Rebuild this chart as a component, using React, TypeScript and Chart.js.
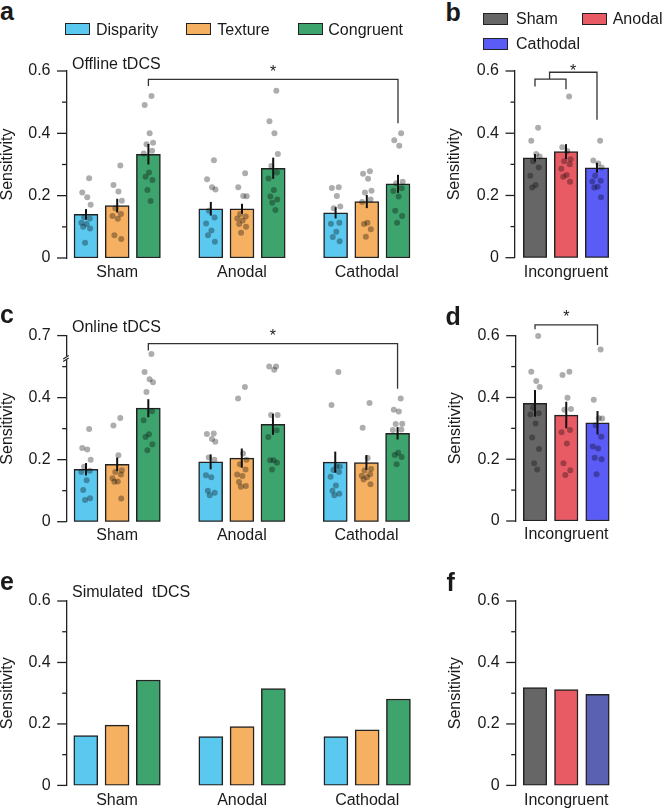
import React, { useEffect, useRef } from 'react';
import { Chart, registerables } from 'chart.js';

Chart.register(...registerables);

const FONT = '"Liberation Sans", Arial, Helvetica, sans-serif';
const INK = '#1a1a1a';
const LINE = '#222222';
const DOT = 'rgba(0,0,0,0.32)';

// ---------- categories / labels ----------
const GROUPS = ['Sham', 'Anodal', 'Cathodal'];
const CONDITIONS = ['Disparity', 'Texture', 'Congruent'];
const INCONGRUENT = ['Incongruent'];
const Y_TICKS = ['0', '', '0.2', '', '0.4', '', '0.6'];
const Y_TICKS_ONLINE = ['0', '', '0.2', '', '0.4', '', '0.7'];

const COND_COLORS = ['#5bc8f0', '#f5b062', '#3ea46e'];
const STIM_COLORS = ['#666666', '#e95b64', '#5b5bf6'];
const STIM_COLORS_SIM = ['#666666', '#e95b64', '#5a60b2'];

// small fixed horizontal spread of the subject dots (in bar-slot units)
const JITTER = [0.1, -0.12, 0.04, 0.15, -0.06, 0.12, -0.15, 0.02, -0.09, 0.13, -0.03, 0.07];

// ---------- a: offline tDCS ----------
const OFF_DISP = [0.14, 0.158, 0.145];
const OFF_TEX = [0.168, 0.158, 0.181];
const OFF_CONG = [0.333, 0.288, 0.238];
const OFF_DISP_ERR = [0.017, 0.022, 0.018];
const OFF_TEX_ERR = [0.022, 0.016, 0.021];
const OFF_CONG_ERR = [0.033, 0.034, 0.029];
const OFF_DISP_PTS = [
  [0.256, 0.21, 0.195, 0.171, 0.131, 0.127, 0.113, 0.109, 0.1, 0.095, 0.049],
  [0.314, 0.253, 0.227, 0.22, 0.152, 0.13, 0.111, 0.088, 0.073, 0.052],
  [0.227, 0.225, 0.199, 0.165, 0.16, 0.113, 0.11, 0.084, 0.067, 0.054],
];
const OFF_TEX_PTS = [
  [0.297, 0.234, 0.213, 0.184, 0.16, 0.141, 0.135, 0.126, 0.073, 0.061],
  [0.272, 0.227, 0.199, 0.198, 0.141, 0.133, 0.127, 0.12, 0.109, 0.1, 0.081],
  [0.278, 0.27, 0.254, 0.216, 0.21, 0.188, 0.18, 0.113, 0.109, 0.092, 0.068],
];
const OFF_CONG_PTS = [
  [0.52, 0.491, 0.4, 0.37, 0.365, 0.344, 0.335, 0.274, 0.261, 0.25, 0.218, 0.183],
  [0.537, 0.439, 0.4, 0.334, 0.295, 0.274, 0.255, 0.218, 0.197, 0.188, 0.177, 0.154],
  [0.4, 0.378, 0.36, 0.245, 0.24, 0.224, 0.215, 0.197, 0.152, 0.135, 0.113],
];

// ---------- b: offline incongruent ----------
const OFF_INC = [0.321, 0.341, 0.289];
const OFF_INC_ERR = [0.012, 0.024, 0.016];
const OFF_INC_PTS = [
  [0.418, 0.376, 0.333, 0.325, 0.31, 0.29, 0.263, 0.234, 0.226],
  [0.518, 0.355, 0.343, 0.316, 0.31, 0.3, 0.286, 0.266, 0.26, 0.244],
  [0.376, 0.312, 0.303, 0.29, 0.263, 0.247, 0.245, 0.228, 0.226, 0.194],
];

// ---------- c: online tDCS (axis broken above 0.5; plotted positions) ----------
const ON_DISP = [0.169, 0.193, 0.192];
const ON_TEX = [0.185, 0.205, 0.191];
const ON_CONG = [0.366, 0.314, 0.285];
const ON_DISP_ERR = [0.02, 0.024, 0.034];
const ON_TEX_ERR = [0.022, 0.031, 0.024];
const ON_CONG_ERR = [0.029, 0.034, 0.02];
const ON_DISP_PTS = [
  [0.299, 0.238, 0.233, 0.2, 0.177, 0.164, 0.16, 0.134, 0.102, 0.076, 0.07],
  [0.284, 0.283, 0.267, 0.258, 0.207, 0.2, 0.15, 0.143, 0.1, 0.093, 0.085],
  [0.483, 0.376, 0.179, 0.178, 0.167, 0.16, 0.145, 0.117, 0.1, 0.09, 0.085],
];
const ON_TEX_PTS = [
  [0.334, 0.31, 0.214, 0.166, 0.16, 0.152, 0.14, 0.13, 0.129, 0.075],
  [0.434, 0.397, 0.22, 0.2, 0.185, 0.168, 0.152, 0.147, 0.128, 0.115, 0.113],
  [0.383, 0.303, 0.205, 0.17, 0.165, 0.153, 0.148, 0.143, 0.136, 0.121],
];
const ON_CONG_PTS = [
  [0.541, 0.483, 0.459, 0.45, 0.418, 0.356, 0.327, 0.282, 0.273, 0.25, 0.23],
  [0.5, 0.5, 0.49, 0.344, 0.344, 0.295, 0.273, 0.198, 0.198, 0.19, 0.168],
  [0.397, 0.361, 0.355, 0.316, 0.315, 0.297, 0.296, 0.222, 0.215, 0.209, 0.185],
];

// ---------- d: online incongruent ----------
const ON_INC = [0.381, 0.343, 0.318];
const ON_INC_ERR = [0.043, 0.043, 0.038];
const ON_INC_PTS = [
  [0.599, 0.483, 0.453, 0.434, 0.367, 0.349, 0.345, 0.316, 0.27, 0.233, 0.187, 0.167],
  [0.483, 0.473, 0.399, 0.363, 0.36, 0.295, 0.287, 0.251, 0.187, 0.164, 0.149],
  [0.555, 0.393, 0.333, 0.332, 0.31, 0.273, 0.241, 0.235, 0.205, 0.2, 0.151],
];

// ---------- e/f: simulated ----------
const SIM_DISP = [0.162, 0.159, 0.159];
const SIM_TEX = [0.196, 0.191, 0.181];
const SIM_CONG = [0.343, 0.315, 0.281];
const SIM_INC = [0.318, 0.312, 0.296];

// ---------- chart helpers ----------
function groupedDatasets(means: number[][], errs: number[][] | null, pts: number[][][] | null) {
  const out: any[] = [];
  CONDITIONS.forEach((name, c) => {
    out.push({
      type: 'bar',
      label: name,
      data: means[c].map((v, g) => ({ x: g * 4 + c, y: v })),
      errors: errs ? errs[c] : null,
      backgroundColor: COND_COLORS[c],
      borderColor: LINE,
      borderWidth: 1.5,
      borderSkipped: false,
      grouped: false,
      barThickness: 24,
      maxBarThickness: 24,
      order: 1,
    });
    if (pts) {
      out.push({
        type: 'scatter',
        label: name + ' subjects',
        data: pts[c].flatMap((arr, g) => arr.map((v, k) => ({ x: g * 4 + c + JITTER[k % JITTER.length], y: v }))),
        pointRadius: 3,
        pointBackgroundColor: DOT,
        pointBorderWidth: 0,
        order: 0,
        clip: false,
      });
    }
  });
  return out;
}

function singleDatasets(means: number[], colors: string[], errs: number[] | null, pts: number[][] | null) {
  const out: any[] = [
    {
      type: 'bar',
      label: INCONGRUENT[0],
      data: means.map((v, i) => ({ x: i, y: v })),
      errors: errs,
      backgroundColor: colors,
      borderColor: LINE,
      borderWidth: 1.5,
      borderSkipped: false,
      grouped: false,
      barThickness: 23.5,
      maxBarThickness: 23.5,
      order: 1,
    },
  ];
  if (pts) {
    out.push({
      type: 'scatter',
      label: 'subjects',
      data: pts.flatMap((arr, i) => arr.map((v, k) => ({ x: i + JITTER[k % JITTER.length], y: v }))),
      pointRadius: 3,
      pointBackgroundColor: DOT,
      pointBorderWidth: 0,
      order: 0,
      clip: false,
    });
  }
  return out;
}

function makeExtras(spec: any) {
  return {
    id: 'extras',
    afterDatasetsDraw(chart: any) {
      const { ctx } = chart;
      const y = chart.scales.y;
      ctx.save();
      ctx.strokeStyle = '#111';
      ctx.lineWidth = 2;
      chart.data.datasets.forEach((ds: any, i: number) => {
        if (!ds.errors) return;
        const meta = chart.getDatasetMeta(i);
        meta.data.forEach((el: any, j: number) => {
          const v = ds.data[j].y;
          const e = ds.errors[j];
          ctx.beginPath();
          ctx.moveTo(el.x, y.getPixelForValue(v - e));
          ctx.lineTo(el.x, y.getPixelForValue(v + e));
          ctx.stroke();
        });
      });
      ctx.restore();
    },
    afterDraw(chart: any) {
      const { ctx, chartArea } = chart;
      const x = chart.scales.x;
      const y = chart.scales.y;
      const ax = chartArea.left;
      ctx.save();
      ctx.strokeStyle = LINE;
      ctx.lineWidth = 1.3;
      // tick marks (long for labelled, short for unlabelled)
      y.ticks.forEach((t: any) => {
        const py = y.getPixelForValue(t.value);
        const len = t.label ? 9.5 : 4.5;
        ctx.beginPath();
        ctx.moveTo(ax - len, py);
        ctx.lineTo(ax, py);
        ctx.stroke();
      });
      // axis break
      if (spec.breakAt != null) {
        const by = y.getPixelForValue(spec.breakAt);
        ctx.fillStyle = '#fff';
        ctx.fillRect(ax - 2, by - 2.5, 4, 4);
        ctx.lineWidth = 1.1;
        ctx.beginPath();
        ctx.moveTo(ax - 3.5, by + 0.5);
        ctx.lineTo(ax + 2, by - 3);
        ctx.moveTo(ax - 3.5, by + 3);
        ctx.lineTo(ax + 2, by - 0.5);
        ctx.stroke();
      }
      // significance brackets
      ctx.strokeStyle = '#333';
      ctx.lineWidth = 1.3;
      (spec.brackets || []).forEach((b: any) => {
        const x1 = x.getPixelForValue(b.x1);
        const x2 = x.getPixelForValue(b.x2);
        const yy = y.getPixelForValue(b.y);
        ctx.beginPath();
        ctx.moveTo(x1, y.getPixelForValue(b.y1));
        ctx.lineTo(x1, yy);
        ctx.lineTo(x2, yy);
        ctx.lineTo(x2, y.getPixelForValue(b.y2));
        ctx.stroke();
      });
      ctx.fillStyle = INK;
      ctx.font = '16px ' + FONT;
      ctx.textAlign = 'center';
      ctx.textBaseline = 'alphabetic';
      (spec.stars || []).forEach((s: any) => {
        ctx.fillText('*', x.getPixelForValue(s.x), y.getPixelForValue(s.y) + 9.2);
      });
      ctx.restore();
    },
  };
}

function buildConfig(spec: any): any {
  return {
    type: 'bar',
    data: { datasets: spec.datasets },
    options: {
      animation: false,
      responsive: false,
      devicePixelRatio: 1,
      events: [],
      layout: { padding: { left: spec.padLeft, top: spec.padTop, right: spec.padRight, bottom: 0 } },
      plugins: { legend: { display: false }, tooltip: { enabled: false }, title: { display: false } },
      scales: {
        x: {
          type: 'linear',
          offset: false,
          min: spec.xMin,
          max: spec.xMax,
          grid: { display: false, drawTicks: false },
          border: { display: false },
          afterBuildTicks: (s: any) => {
            s.ticks = spec.xTickPos.map((v: number) => ({ value: v }));
          },
          ticks: {
            callback: (_v: any, i: number) => spec.xLabels[i],
            font: { family: FONT, size: 16 },
            color: INK,
            padding: spec.xPad,
            maxRotation: 0,
            autoSkip: false,
          },
          afterFit: (s: any) => {
            s.height = spec.xHeight;
          },
        },
        y: {
          type: 'linear',
          min: 0,
          max: 0.6,
          grid: { display: false, drawTicks: false },
          border: { display: true, color: LINE, width: 1.3 },
          ticks: {
            stepSize: 0.1,
            callback: (_v: any, i: number) => spec.yLabels[i],
            padding: 16,
            font: { family: FONT, size: 16 },
            color: INK,
          },
          title: {
            display: true,
            text: 'Sensitivity',
            font: { family: FONT, size: 16, lineHeight: 1 },
            color: INK,
            padding: { top: 0, bottom: 0 },
          },
          afterFit: (s: any) => {
            s.width = spec.yWidth;
          },
        },
      },
    },
    plugins: [makeExtras(spec)],
  };
}

function ChartPanel({ spec }: { spec: any }) {
  const ref = useRef<HTMLCanvasElement | null>(null);
  useEffect(() => {
    const chart = new Chart(ref.current as HTMLCanvasElement, buildConfig(spec));
    return () => chart.destroy();
  }, []);
  return (
    <canvas
      ref={ref}
      width={spec.width}
      height={spec.height}
      style={{ position: 'absolute', left: spec.left, top: spec.top, width: spec.width, height: spec.height }}
    />
  );
}

const GROUP_TICKS = [1, 5, 9];

const PANEL_A = {
  left: 0, top: 40, width: 430, height: 250,
  padLeft: 0, padTop: 31, padRight: 10, yWidth: 66.5, xHeight: 32, xPad: 5,
  xMin: -0.625, xMax: 10.705,
  xTickPos: GROUP_TICKS, xLabels: GROUPS, yLabels: Y_TICKS,
  datasets: groupedDatasets(
    [OFF_DISP, OFF_TEX, OFF_CONG],
    [OFF_DISP_ERR, OFF_TEX_ERR, OFF_CONG_ERR],
    [OFF_DISP_PTS, OFF_TEX_PTS, OFF_CONG_PTS]
  ),
  brackets: [{ x1: 2, x2: 10, y: 0.573, y1: 0.552, y2: 0.432 }],
  stars: [{ x: 6, y: 0.609 }],
};

const PANEL_B = {
  left: 430, top: 40, width: 234, height: 250,
  padLeft: 17, padTop: 31, padRight: 44, yWidth: 68, xHeight: 32.3, xPad: 5,
  xMin: -0.645, xMax: 2.742,
  xTickPos: [1], xLabels: INCONGRUENT, yLabels: Y_TICKS,
  datasets: singleDatasets(OFF_INC, STIM_COLORS, OFF_INC_ERR, OFF_INC_PTS),
  brackets: [
    { x1: 0, x2: 1, y: 0.574, y1: 0.55, y2: 0.541 },
    { x1: 0.47, x2: 2, y: 0.596, y1: 0.574, y2: 0.443 },
  ],
  stars: [{ x: 1.23, y: 0.614 }],
};

const PANEL_C = {
  left: 0, top: 310, width: 430, height: 250,
  padLeft: 0, padTop: 25, padRight: 10, yWidth: 66.7, xHeight: 38.3, xPad: 4,
  xMin: -0.62, xMax: 10.72,
  xTickPos: GROUP_TICKS, xLabels: GROUPS, yLabels: Y_TICKS_ONLINE,
  datasets: groupedDatasets(
    [ON_DISP, ON_TEX, ON_CONG],
    [ON_DISP_ERR, ON_TEX_ERR, ON_CONG_ERR],
    [ON_DISP_PTS, ON_TEX_PTS, ON_CONG_PTS]
  ),
  brackets: [{ x1: 2, x2: 10, y: 0.574, y1: 0.552, y2: 0.429 }],
  stars: [{ x: 6, y: 0.611 }],
  breakAt: 0.526,
};

const PANEL_D = {
  left: 430, top: 290, width: 234, height: 270,
  padLeft: 17.8, padTop: 45.7, padRight: 44, yWidth: 67.9, xHeight: 39, xPad: 4,
  xMin: -0.618, xMax: 2.72,
  xTickPos: [1], xLabels: INCONGRUENT, yLabels: Y_TICKS,
  datasets: singleDatasets(ON_INC, STIM_COLORS, ON_INC_ERR, ON_INC_PTS),
  brackets: [{ x1: 0, x2: 2, y: 0.635, y1: 0.621, y2: 0.57 }],
  stars: [{ x: 1, y: 0.673 }],
};

const PANEL_E = {
  left: 0, top: 560, width: 430, height: 251,
  padLeft: 0, padTop: 41, padRight: 10, yWidth: 66.7, xHeight: 25, xPad: 6,
  xMin: -0.61, xMax: 10.69,
  xTickPos: GROUP_TICKS, xLabels: GROUPS, yLabels: Y_TICKS,
  datasets: groupedDatasets([SIM_DISP, SIM_TEX, SIM_CONG], null, null),
};

const PANEL_F = {
  left: 430, top: 560, width: 234, height: 251,
  padLeft: 17.8, padTop: 41, padRight: 44, yWidth: 67.9, xHeight: 25.3, xPad: 6,
  xMin: -0.618, xMax: 2.72,
  xTickPos: [1], xLabels: INCONGRUENT, yLabels: Y_TICKS,
  datasets: singleDatasets(SIM_INC, STIM_COLORS_SIM, null, null),
};

const txt = (left: number, top: number, extra: any = {}): any => ({
  position: 'absolute',
  left,
  top,
  fontSize: 16,
  lineHeight: 1,
  whiteSpace: 'pre',
  ...extra,
});

const letter = (left: number, top: number): any => txt(left, top, { fontSize: 25, fontWeight: 'bold' });

const swatch = (left: number, top: number, color: string): any => ({
  position: 'absolute',
  left,
  top,
  width: 25,
  height: 12,
  background: color,
  border: '1.3px solid ' + LINE,
  boxSizing: 'border-box',
});

export default function App() {
  return (
    <div
      style={{
        position: 'absolute',
        left: 0,
        top: 0,
        width: 664,
        height: 811,
        background: '#fff',
        fontFamily: FONT,
        color: INK,
        overflow: 'hidden',
      }}
    >
      <ChartPanel spec={PANEL_A} />
      <ChartPanel spec={PANEL_B} />
      <ChartPanel spec={PANEL_C} />
      <ChartPanel spec={PANEL_D} />
      <ChartPanel spec={PANEL_E} />
      <ChartPanel spec={PANEL_F} />

      <div style={letter(0, -1.2)}>a</div>
      <div style={letter(445.5, -0.5)}>b</div>
      <div style={letter(0, 302)}>c</div>
      <div style={letter(445.5, 303.8)}>d</div>
      <div style={letter(0, 568.8)}>e</div>
      <div style={letter(446.5, 569.5)}>f</div>

      {/* legend a */}
      <div style={swatch(65, 22.7, COND_COLORS[0])} />
      <div style={txt(96, 21.7)}>{CONDITIONS[0]}</div>
      <div style={swatch(185.7, 22.7, COND_COLORS[1])} />
      <div style={txt(217.3, 21.7)}>{CONDITIONS[1]}</div>
      <div style={swatch(297.7, 22.7, COND_COLORS[2])} />
      <div style={txt(328.3, 21.7)}>{CONDITIONS[2]}</div>

      {/* legend b */}
      <div style={swatch(483.3, 12.5, STIM_COLORS[0])} />
      <div style={txt(516, 10.5)}>{GROUPS[0]}</div>
      <div style={swatch(581.7, 12.5, STIM_COLORS[1])} />
      <div style={txt(612.7, 10.5)}>{GROUPS[1]}</div>
      <div style={swatch(483.3, 38, STIM_COLORS[2])} />
      <div style={txt(516, 36)}>{GROUPS[2]}</div>

      <div style={txt(72, 56)}>Offline tDCS</div>
      <div style={txt(72, 319.4)}>Online tDCS</div>
      <div style={txt(72, 584)}>{'Simulated  tDCS'}</div>
    </div>
  );
}
